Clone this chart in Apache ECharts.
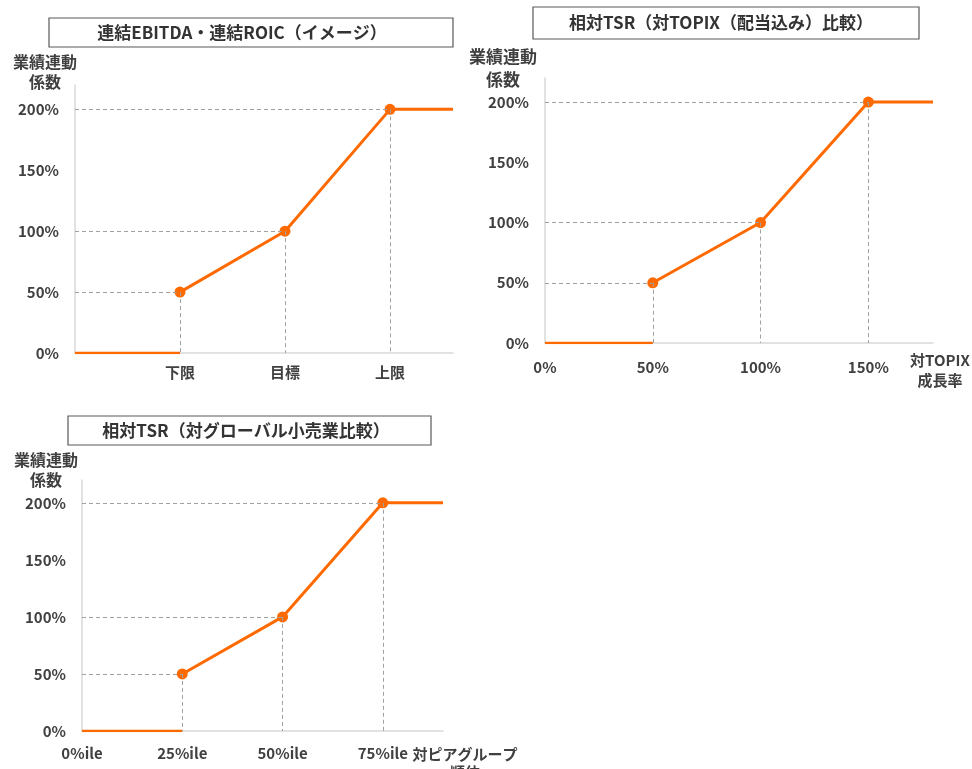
<!DOCTYPE html>
<html>
<head>
<meta charset="utf-8">
<script src="https://cdn.jsdelivr.net/npm/echarts@6/dist/echarts.min.js"></script>
<style>
  html, body { margin: 0; padding: 0; background: #fff; }
  #main { width: 972px; height: 769px; }
</style>
</head>
<body>
<div id="main"></div>
<script>
// y軸（業績連動係数）
const yTicks = [0, 50, 100, 150, 200];
const yMax = 220;

// 連結EBITDA・連結ROIC
const c1Labels = ['', '下限', '目標', '上限'];
const c1X = [1, 2, 3];
const c1Y = [50, 100, 200];
const c1XMax = 3.6;

// 相対TSR（対TOPIX）
const c2Ticks = [0, 50, 100, 150];
const c2X = [50, 100, 150];
const c2Y = [50, 100, 200];
const c2XMax = 180;

// 相対TSR（対グローバル小売業）
const c3Labels = ['0%ile', '25%ile', '50%ile', '75%ile'];
const c3X = [25, 50, 75];
const c3Y = [50, 100, 200];
const c3XMax = 90;

const FONT = '"Noto Sans CJK JP", "Noto Sans", sans-serif';
const TXT = '#404040';
const ORANGE = '#ff6a00';
const GRAYLINE = '#d9d9d9';
const DASH = '#a0a0a0';

var chart = echarts.init(document.getElementById('main'));

function yLabel(v) {
  return yTicks.indexOf(v) >= 0 ? v + '%' : '';
}

function panel(i, xs, ys, xMax, interval, xFmt, xMargin, yName, xName) {
  var curve = xs.map(function (x, k) { return [x, ys[k]]; });
  curve.push({ value: [xMax, ys[ys.length - 1]], symbol: 'none' });
  var guides = [];
  xs.forEach(function (x, k) {
    guides.push([{ coord: [0, ys[k]] }, { coord: [x, ys[k]] }]);
    guides.push([{ coord: [x, ys[k]] }, { coord: [x, 0] }]);
  });
  return {
    xAxis: {
      type: 'value', gridIndex: i, min: 0, max: xMax, interval: interval,
      axisLine: { show: true, lineStyle: { color: GRAYLINE, width: 1.5 } },
      axisTick: { show: false }, splitLine: { show: false },
      axisLabel: { formatter: xFmt, margin: xMargin, color: TXT, fontWeight: 'bold', fontSize: 15, fontFamily: FONT },
      name: xName.text, nameLocation: 'end', nameGap: xName.gap,
      nameTextStyle: {
        color: TXT, fontWeight: 'bold', fontSize: 15, fontFamily: FONT,
        align: 'center', verticalAlign: 'top', lineHeight: xName.lh, padding: [xName.top, 0, 0, 0]
      }
    },
    yAxis: {
      type: 'value', gridIndex: i, min: 0, max: yMax, interval: 50,
      axisLine: { show: true, lineStyle: { color: GRAYLINE, width: 1.5 } },
      axisTick: { show: false }, splitLine: { show: false },
      axisLabel: { formatter: yLabel, margin: 16, color: TXT, fontWeight: 'bold', fontSize: 15, fontFamily: FONT },
      name: '業績連動\n係数', nameLocation: 'end', nameGap: yName.gap,
      nameTextStyle: {
        color: TXT, fontWeight: 'bold', fontSize: yName.size, fontFamily: FONT,
        align: 'center', verticalAlign: 'bottom', lineHeight: yName.lh, padding: [0, yName.shift, 0, 0]
      }
    },
    series: [
      {
        type: 'line', xAxisIndex: i, yAxisIndex: i, z: 1, silent: true,
        data: [[0, 0], [xs[0], 0]], symbol: 'none',
        lineStyle: { color: ORANGE, width: 2.5 },
        markLine: {
          silent: true, symbol: 'none', label: { show: false },
          lineStyle: { color: DASH, type: [4, 3], width: 1 },
          data: guides
        }
      },
      {
        type: 'line', xAxisIndex: i, yAxisIndex: i, z: 3, silent: true,
        data: curve, symbol: 'circle', symbolSize: 11,
        itemStyle: { color: ORANGE }, lineStyle: { color: ORANGE, width: 3 }
      }
    ]
  };
}

var p1 = panel(0, c1X, c1Y, c1XMax, 1,
  function (v) { return c1Labels[v] || ''; }, 12,
  { gap: -7, size: 16, lh: 20, shift: 60 },
  { text: '', gap: 0, lh: 20, top: 0 });
var p2 = panel(1, c2X, c2Y, c2XMax, 50,
  function (v) { return c2Ticks.indexOf(v) >= 0 ? v + '%' : ''; }, 17,
  { gap: -13, size: 17, lh: 23, shift: 84 },
  { text: '対TOPIX\n成長率', gap: 7, lh: 20, top: 7 });
var p3 = panel(2, c3X, c3Y, c3XMax, 25,
  function (v) { return c3Labels[v / 25] || ''; }, 15,
  { gap: -10, size: 16, lh: 20, shift: 72 },
  { text: '対ピアグループ\n順位', gap: 22, lh: 18, top: 14 });

function titleBox(x, y, w, h, cx, text) {
  return {
    type: 'group',
    children: [
      { type: 'rect', shape: { x: x, y: y, width: w, height: h },
        style: { fill: '#fff', stroke: '#595959', lineWidth: 1.2 } },
      { type: 'text', x: cx, y: y + h / 2,
        style: { text: text, align: 'center', verticalAlign: 'middle',
          font: 'bold 17px ' + FONT, fill: '#333' } }
    ]
  };
}

var option = {
  animation: false,
  backgroundColor: '#fff',
  textStyle: { fontFamily: FONT },
  grid: [
    { left: 75, top: 85, width: 378, height: 268, outerBoundsMode: 'none' },
    { left: 545, top: 78, width: 388, height: 265, outerBoundsMode: 'none' },
    { left: 82, top: 480, width: 361, height: 251, outerBoundsMode: 'none' }
  ],
  xAxis: [p1.xAxis, p2.xAxis, p3.xAxis],
  yAxis: [p1.yAxis, p2.yAxis, p3.yAxis],
  series: p1.series.concat(p2.series, p3.series),
  graphic: [
    titleBox(49, 18, 404, 29, 242, '連結EBITDA・連結ROIC（イメージ）'),
    titleBox(533, 7, 386, 32, 721, '相対TSR（対TOPIX（配当込み）比較）'),
    titleBox(68, 416, 363, 29, 246, '相対TSR（対グローバル小売業比較）')
  ]
};

chart.setOption(option);
</script>
</body>
</html>
